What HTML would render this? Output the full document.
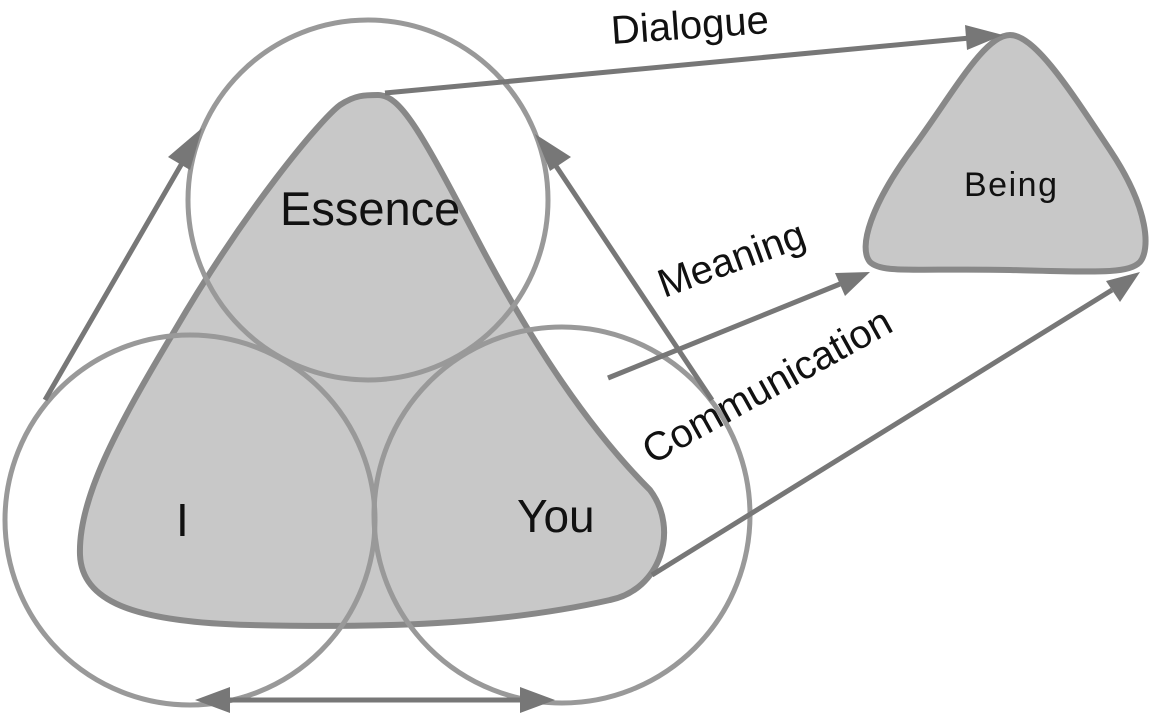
<!DOCTYPE html>
<html><head><meta charset="utf-8"><style>
html,body{margin:0;padding:0;background:#fff;}
svg{display:block;}
text{font-family:"Liberation Sans",sans-serif;fill:#111;}
</style></head><body>
<svg width="1156" height="722" viewBox="0 0 1156 722">
<path d="M378,95 C400,95 420,130 475,235 C540,360 600,440 650,490 C680,530 660,590 610,600 C500,625 380,628 250,625 C130,622 82,600 80,555 C78,500 115,430 175,330 C245,210 320,120 340,105 C355,95 365,95 378,95 Z" fill="#c8c8c8" stroke="#888" stroke-width="6"/>
<circle cx="368" cy="200" r="180" fill="none" stroke="#999" stroke-width="5"/>
<circle cx="190" cy="520" r="185" fill="none" stroke="#999" stroke-width="5"/>
<circle cx="562" cy="515" r="188" fill="none" stroke="#999" stroke-width="5"/>
<path d="M1010,35 C1035,35 1070,90 1110,150 C1150,210 1150,250 1140,262 C1128,274 1100,272 1010,270 C920,268 882,274 870,262 C858,248 870,205 915,145 C955,90 985,35 1010,35 Z" fill="#c8c8c8" stroke="#888" stroke-width="6"/>
<g stroke="#777" stroke-width="5" fill="#777">
<line x1="45" y1="400" x2="185" y2="158"/>
<polygon points="202,128 190,170 168,157" stroke="none"/>
<line x1="712" y1="400" x2="552" y2="160"/>
<polygon points="535,134 571,157 550,171" stroke="none"/>
<line x1="385" y1="93" x2="970" y2="38"/>
<polygon points="1003,35 967,50 965,25" stroke="none"/>
<line x1="608" y1="378" x2="840" y2="284"/>
<polygon points="870,272 845,296 835,273" stroke="none"/>
<line x1="652" y1="575" x2="1112" y2="290"/>
<polygon points="1140,272 1120,302 1106,281" stroke="none"/>
<line x1="225" y1="700" x2="525" y2="700"/>
<polygon points="195,700 230,687 230,713" stroke="none"/>
<polygon points="555,700 520,687 520,713" stroke="none"/>
</g>
<text x="280" y="225" font-size="47">Essence</text>
<text x="176" y="536" font-size="46">I</text>
<text x="517" y="532" font-size="46">You</text>
<text x="964" y="196" font-size="34" textLength="93">Being</text>
<text x="612" y="44" font-size="40" transform="rotate(-4 612 44)">Dialogue</text>
<text x="664" y="298" font-size="40" transform="rotate(-20 664 298)">Meaning</text>
<text x="652" y="465" font-size="40" transform="rotate(-29 652 465)">Communication</text>
</svg>
</body></html>
